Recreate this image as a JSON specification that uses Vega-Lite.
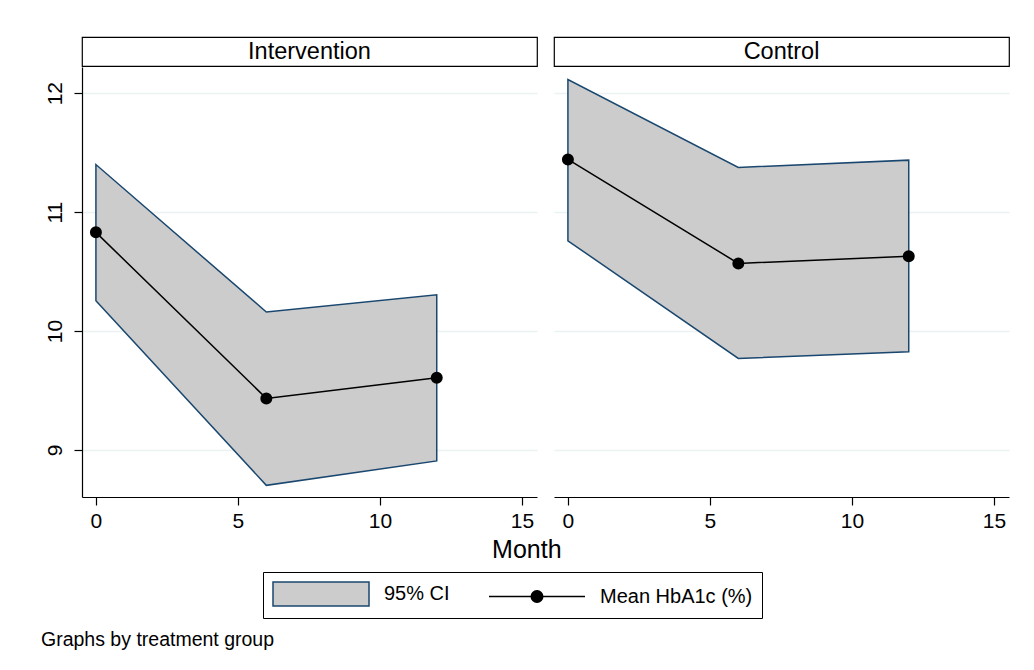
{
  "$schema": "https://vega.github.io/schema/vega-lite/v6.json",
  "background": "white",
  "padding": {"left": 40, "top": 36, "right": 10, "bottom": 10},
  "config": {
    "view": {"stroke": null},
    "font": "Liberation Sans",
    "axis": {
      "domainColor": "#000000", "tickColor": "#000000", "labelColor": "#000000",
      "labelFont": "Liberation Sans", "labelFontSize": 21, "tickSize": 8,
      "domainWidth": 1.2, "tickWidth": 1.2, "gridColor": "#eaf2f3", "gridWidth": 1.5
    },
    "legend": {
      "title": null, "orient": "none", "legendX": 181, "legendY": 535, "direction": "horizontal",
      "strokeColor": "#000000", "fillColor": "white", "padding": 9,
      "symbolSize": 576, "symbolOffset": 36, "symbolStrokeWidth": 1.5, "symbolOpacity": 1,
      "labelFontSize": 20, "labelFont": "Liberation Sans", "labelColor": "#000000",
      "labelOffset": 50, "columnPadding": 36
    },
    "title": {"font": "Liberation Sans", "color": "#000000", "fontWeight": "normal"}
  },
  "datasets": {
    "hba1c": [
      {"group": "Intervention", "month": 0, "mean": 10.83, "lo": 10.255, "hi": 11.40},
      {"group": "Intervention", "month": 6, "mean": 9.434, "lo": 8.703, "hi": 10.16},
      {"group": "Intervention", "month": 12, "mean": 9.608, "lo": 8.908, "hi": 10.305},
      {"group": "Control", "month": 0, "mean": 11.443, "lo": 10.759, "hi": 12.115},
      {"group": "Control", "month": 6, "mean": 10.569, "lo": 9.77, "hi": 11.376},
      {"group": "Control", "month": 12, "mean": 10.628, "lo": 9.826, "hi": 11.437}
    ],
    "head1": [{"group": "Intervention"}],
    "head2": [{"group": "Control"}]
  },
  "title": {"text": "Graphs by treatment group", "orient": "bottom", "anchor": "start", "frame": "bounds", "fontSize": 19.5, "offset": 12, "dx": -3},
  "vconcat": [
    {
      "title": {"text": "Month", "orient": "bottom", "anchor": "middle", "frame": "bounds", "fontSize": 25, "offset": 7},
      "spacing": 15,
      "hconcat": [
        {
          "spacing": 0,
          "vconcat": [
            {
              "data": {"name": "head1"},
              "width": 455, "height": 29,
              "view": {"stroke": "#000000", "strokeWidth": 1.2, "fill": "white"},
              "mark": {"type": "text", "fontSize": 23.5, "font": "Liberation Sans", "baseline": "middle", "align": "center", "color": "#000000"},
              "encoding": {"text": {"field": "group"}}
            },
            {
              "width": 455, "height": 430,
              "data": {"name": "hba1c"},
              "transform": [{"filter": "datum.group === 'Intervention'"}],
              "encoding": {
                "x": {"field": "month", "type": "quantitative", "scale": {"domain": [-0.49, 15.53], "nice": false, "zero": false},
                      "axis": {"values": [0, 5, 10, 15], "title": null, "grid": false, "labelPadding": 5}}
              },
              "layer": [
                {
                  "mark": {"type": "area", "strokeWidth": 1.5, "opacity": 1, "fillOpacity": 1},
                  "encoding": {
                    "y": {"field": "lo", "type": "quantitative", "scale": {"domain": [8.605, 12.22], "nice": false, "zero": false},
                          "axis": {"values": [9, 10, 11, 12], "title": null, "grid": true, "labelAngle": -90, "labelAlign": "center", "labelBaseline": "bottom", "labelPadding": 9}},
                    "y2": {"field": "hi"},
                    "color": {
                      "datum": "95% CI",
                      "scale": {"domain": ["95% CI", "Mean HbA1c (%)"], "range": ["#cccccc", "#000000"]}
                    },
                    "stroke": {
                      "datum": "95% CI",
                      "scale": {"domain": ["95% CI", "Mean HbA1c (%)"], "range": ["#1a476f", "#000000"]}
                    }
                  }
                },
                {
                  "mark": {"type": "line", "strokeWidth": 1.5},
                  "encoding": {
                    "y": {"field": "mean", "type": "quantitative",
                          "axis": {"values": [9, 10, 11, 12], "title": null, "grid": true, "labelAngle": -90, "labelAlign": "center", "labelBaseline": "bottom", "labelPadding": 9}},
                    "stroke": {"datum": "Mean HbA1c (%)"}
                  }
                },
                {
                  "mark": {"type": "point", "filled": true, "size": 100, "opacity": 1},
                  "encoding": {
                    "y": {"field": "mean", "type": "quantitative",
                          "axis": {"values": [9, 10, 11, 12], "title": null, "grid": true, "labelAngle": -90, "labelAlign": "center", "labelBaseline": "bottom", "labelPadding": 9}},
                    "color": {"datum": "Mean HbA1c (%)"},
                    "stroke": {"datum": "Mean HbA1c (%)"}
                  }
                },
                {
                  "transform": [{"filter": "datum.month < 0"}],
                  "mark": {"type": "point", "filled": true},
                  "encoding": {
                    "y": {"field": "mean", "type": "quantitative",
                          "axis": {"values": [9, 10, 11, 12], "title": null, "grid": true, "labelAngle": -90, "labelAlign": "center", "labelBaseline": "bottom", "labelPadding": 9}},
                    "shape": {
                      "datum": "95% CI",
                      "scale": {"domain": ["95% CI", "Mean HbA1c (%)"],
                                "range": ["M-4,-1L4,-1L4,1L-4,1Z", "M-4,0L4,0M0.48,0A0.48,0.48,0,1,1,-0.48,0A0.48,0.48,0,1,1,0.48,0Z"]}
                    }
                  }
                }
              ]
            }
          ]
        },
        {
          "spacing": 0,
          "vconcat": [
            {
              "data": {"name": "head2"},
              "width": 455, "height": 29,
              "view": {"stroke": "#000000", "strokeWidth": 1.2, "fill": "white"},
              "mark": {"type": "text", "fontSize": 23.5, "font": "Liberation Sans", "baseline": "middle", "align": "center", "color": "#000000"},
              "encoding": {"text": {"field": "group"}}
            },
            {
              "width": 455, "height": 430,
              "data": {"name": "hba1c"},
              "transform": [{"filter": "datum.group === 'Control'"}],
              "encoding": {
                "x": {"field": "month", "type": "quantitative", "scale": {"domain": [-0.49, 15.53], "nice": false, "zero": false},
                      "axis": {"values": [0, 5, 10, 15], "title": null, "grid": false, "labelPadding": 5}}
              },
              "layer": [
                {
                  "mark": {"type": "area", "strokeWidth": 1.5, "opacity": 1, "fillOpacity": 1},
                  "encoding": {
                    "y": {"field": "lo", "type": "quantitative", "scale": {"domain": [8.605, 12.22], "nice": false, "zero": false},
                          "axis": {"values": [9, 10, 11, 12], "title": null, "grid": true, "labels": false, "ticks": false, "domain": false, "minExtent": 0}},
                    "y2": {"field": "hi"},
                    "color": {"datum": "95% CI"},
                    "stroke": {"datum": "95% CI"}
                  }
                },
                {
                  "mark": {"type": "line", "strokeWidth": 1.5},
                  "encoding": {
                    "y": {"field": "mean", "type": "quantitative",
                          "axis": {"values": [9, 10, 11, 12], "title": null, "grid": true, "labels": false, "ticks": false, "domain": false, "minExtent": 0}},
                    "stroke": {"datum": "Mean HbA1c (%)"}
                  }
                },
                {
                  "mark": {"type": "point", "filled": true, "size": 100, "opacity": 1},
                  "encoding": {
                    "y": {"field": "mean", "type": "quantitative",
                          "axis": {"values": [9, 10, 11, 12], "title": null, "grid": true, "labels": false, "ticks": false, "domain": false, "minExtent": 0}},
                    "color": {"datum": "Mean HbA1c (%)"},
                    "stroke": {"datum": "Mean HbA1c (%)"}
                  }
                }
              ]
            }
          ]
        }
      ]
    }
  ]
}
